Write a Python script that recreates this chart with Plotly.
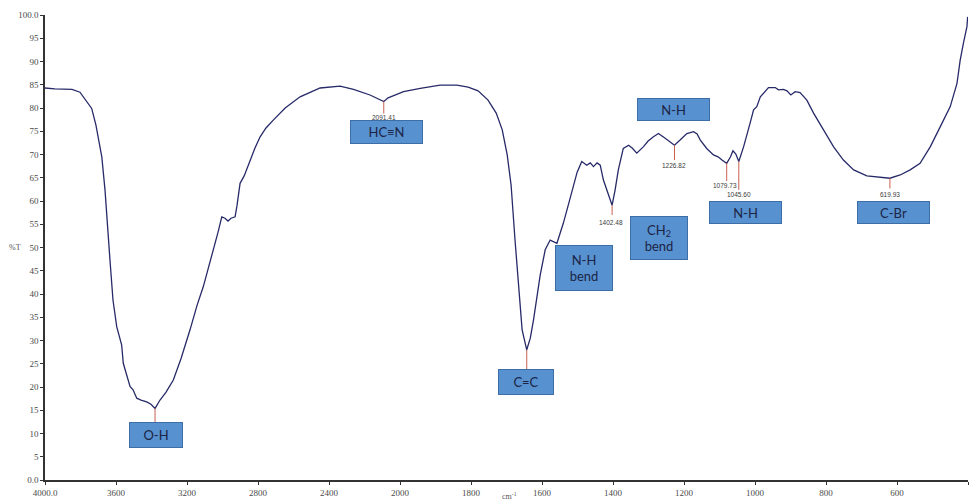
import numpy as np
import plotly.graph_objects as go

# FTIR spectrum: wavenumber (cm-1) and transmittance (%T)
WAVENUMBER = [
    4000, 3944, 3848, 3803, 3737, 3713, 3680, 3662, 3634, 3617,
    3596, 3583, 3568, 3559, 3543, 3521, 3504, 3483, 3459, 3427,
    3403, 3380, 3352, 3318, 3277, 3233, 3183, 3143, 3108, 3081,
    3052, 3025, 3004, 2986, 2969, 2952, 2929, 2918, 2901, 2878,
    2845, 2817, 2788, 2755, 2714, 2647, 2563, 2450, 2338, 2262,
    2169, 2123, 2091.41, 2067, 1990, 1943, 1887, 1840, 1808, 1780,
    1752, 1729, 1712, 1698, 1687, 1676, 1664, 1656, 1643, 1633,
    1624, 1614, 1605, 1591, 1577, 1558, 1540, 1526, 1511, 1501,
    1488, 1474, 1464, 1455, 1445, 1436, 1427, 1416, 1402.48, 1394,
    1385, 1371, 1356, 1346, 1333, 1314, 1301, 1286, 1272, 1253,
    1239, 1226.82, 1211, 1192, 1173, 1163, 1154, 1136, 1117, 1104,
    1093, 1079.73, 1069, 1062, 1054, 1045.60, 1032, 1023, 1014, 1004,
    995, 985, 976, 962, 943, 934, 920, 910, 899, 887,
    873, 854, 835, 807, 779, 751, 722, 685, 647, 619.93,
    591, 563, 535, 506, 478, 450, 431, 422, 413, 403,
    401,
]
TRANSMITTANCE = [
    84.3, 84.1, 84.0, 83.4, 79.9, 76.3, 69.5, 62.4, 47.3, 38.7,
    33.0, 31.0, 29.0, 25.1, 23.2, 20.1, 19.4, 17.6, 17.2, 16.8,
    16.3, 15.4, 17.2, 18.9, 21.5, 26.2, 32.3, 37.6, 41.6, 45.2,
    49.5, 53.3, 56.6, 56.3, 55.7, 56.3, 56.6, 59.1, 63.8, 65.4,
    68.8, 71.4, 73.8, 75.7, 77.4, 80.0, 82.4, 84.3, 84.7, 84.0,
    82.8, 81.9, 81.4, 82.2, 83.5, 84.2, 84.9, 84.9, 84.5, 83.7,
    81.7, 78.9, 75.3, 69.9, 63.4, 51.6, 38.7, 32.3, 28.0, 30.5,
    34.4, 39.8, 44.1, 49.5, 51.6, 50.9, 55.2, 59.1, 63.1, 66.2,
    68.5, 67.7, 68.2, 67.4, 68.2, 67.7, 64.5, 61.9, 59.1, 62.4,
    66.7, 71.3, 72.0, 71.4, 70.3, 71.7, 72.9, 73.8, 74.5, 73.5,
    72.7, 72.0, 73.1, 74.5, 74.9, 74.4, 73.1, 71.3, 69.9, 69.5,
    68.8, 68.1, 69.5, 70.8, 70.1, 68.5, 71.7, 74.5, 76.7, 79.6,
    80.3, 82.4, 83.2, 84.4, 84.4, 83.9, 84.0, 83.7, 82.8, 83.5,
    83.3, 81.7, 78.9, 75.3, 71.7, 68.8, 66.7, 65.4, 65.2, 64.9,
    65.6, 66.7, 68.1, 71.7, 76.0, 80.3, 85.3, 90.3, 93.9, 97.5,
    99.6,
]

# Axis ticks (scale changes at 2000 cm-1)
X_TICK_WN = [4000, 3600, 3200, 2800, 2400, 2000, 1800, 1600, 1400, 1200, 1000, 800, 600, 400]
X_TICK_TEXT = ["4000.0", "3600", "3200", "2800", "2400", "2000", "1800", "1600",
               "1400", "1200", "1000", "800", "600", "400.0"]
Y_TICK_VALS = list(range(0, 101, 5))
Y_TICK_TEXT = ["0.0"] + [str(v) for v in range(5, 100, 5)] + ["100.0"]

# Marked peaks and their printed wavenumbers
PEAK_WN = [3380, 2091.41, 1643, 1402.48, 1226.82, 1079.73, 1045.60, 619.93]
PEAK_TEXT = ["", "2091.41", "", "1402.48", "1226.82", "1079.73", "1045.60", "619.93"]

# Band assignment labels
BAND_TEXT = ["O-H", "HC\u2261N", "C=C", "N-H<br>bend", "CH<sub>2</sub><br>bend", "N-H", "N-H", "C-Br"]


def to_axis(wn):
    """Map wavenumber onto the two-scale axis: 400 cm-1 per division above
    2000 cm-1, 200 cm-1 per division below."""
    wn = np.asarray(wn, dtype=float)
    return np.where(wn >= 2000, (4000 - wn) / 400.0, 5 + (2000 - wn) / 200.0)


wn_arr = np.array(WAVENUMBER)
t_arr = np.array(TRANSMITTANCE)
peak_t = [float(t_arr[np.argmin(np.abs(wn_arr - w))]) for w in PEAK_WN]

fig = go.Figure()
fig.add_trace(go.Scatter(
    x=to_axis(WAVENUMBER), y=TRANSMITTANCE, mode="lines",
    line=dict(color="#272a68", width=1.3), hoverinfo="skip", showlegend=False,
))

# marker stems (lower end) and printed-value positions
stem_end = [12.3, 78.8, 23.7, 57.0, 68.8, 64.3, 62.4, 62.7]
value_y = [None, 78.0, None, 55.4, 67.6, 63.4, 61.3, 61.5]
value_dx = [0, 0, 0, -0.01, 0, -0.02, 0.005, 0]
for w, t, e, txt, vy, dx in zip(PEAK_WN, peak_t, stem_end, PEAK_TEXT, value_y, value_dx):
    xu = float(to_axis(w))
    fig.add_shape(type="line", x0=xu, x1=xu, y0=t, y1=e,
                  line=dict(color="#c8604f", width=1))
    if txt:
        fig.add_annotation(x=xu + dx, y=vy, text=txt, showarrow=False,
                           font=dict(family="Liberation Sans", size=6.5, color="#3a3a3a"),
                           xanchor="center", yanchor="middle")

# band label boxes: centre (axis units, %T) and size (px)
box_x = [1.557, 4.804, 6.770, 7.587, 8.641, 8.852, 9.862, 11.951]
box_y = [9.7, 74.8, 21.0, 45.6, 52.1, 79.7, 57.6, 57.6]
box_w = [52, 71, 54, 56, 56, 71, 71, 71]
box_h = [24, 22, 24, 44, 42, 21, 21, 21]
for txt, bx, by, w, h in zip(BAND_TEXT, box_x, box_y, box_w, box_h):
    fig.add_annotation(x=bx, y=by, text=txt, showarrow=False,
                       width=w, height=h, align="center", valign="middle",
                       bgcolor="#5791d0", bordercolor="#3e6ea6", borderwidth=1, borderpad=0,
                       font=dict(family="Lato", size=13, color="#1c2444"),
                       xanchor="center", yanchor="middle")

# axis titles
fig.add_annotation(xref="paper", yref="paper", x=-0.041, y=0.50, text="%T",
                   showarrow=False, font=dict(family="Liberation Serif", size=8, color="#555"),
                   xanchor="left", yanchor="middle")
fig.add_annotation(xref="paper", yref="paper", x=0.503, y=-0.049, text="cm<sup>-1</sup>",
                   showarrow=False, font=dict(family="Liberation Serif", size=8, color="#555"),
                   xanchor="center", yanchor="bottom")

axis_font = dict(family="Liberation Serif", size=9, color="#4a4a4a")
fig.update_layout(
    width=974, height=504,
    margin=dict(l=45, r=6, t=15, b=24, autoexpand=False),
    paper_bgcolor="white", plot_bgcolor="white",
    xaxis=dict(range=[0, 13], tickmode="array", tickvals=to_axis(X_TICK_WN).tolist(),
               ticktext=X_TICK_TEXT, showgrid=False, zeroline=False,
               showline=True, linecolor="#333", linewidth=1.5,
               ticks="outside", ticklen=3, tickcolor="#333", tickfont=axis_font,
               automargin=False, fixedrange=True),
    yaxis=dict(range=[0, 100], tickmode="array", tickvals=Y_TICK_VALS, ticktext=Y_TICK_TEXT,
               showgrid=False, zeroline=False, showline=True, linecolor="#333", linewidth=1.5,
               ticks="outside", ticklen=3, tickcolor="#333", tickfont=axis_font,
               automargin=False, fixedrange=True),
)

fig.write_html("out.html")
